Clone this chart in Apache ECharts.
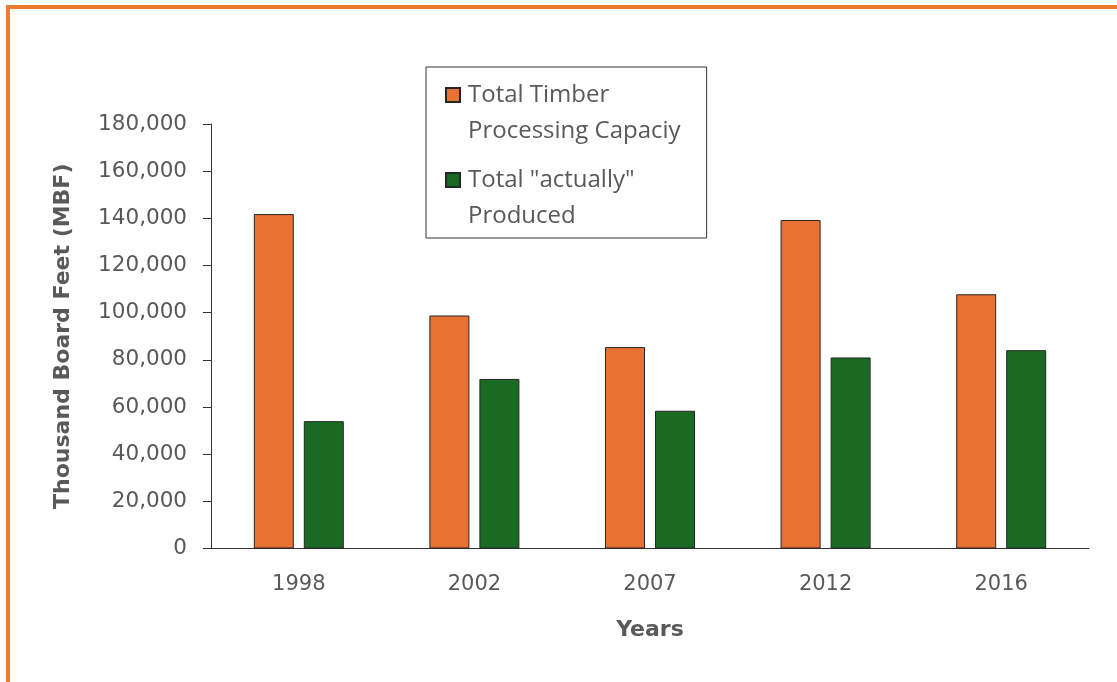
<!DOCTYPE html>
<html>
<head>
<meta charset="utf-8">
<title>Timber Processing Capacity vs Production</title>
<script src="https://cdn.jsdelivr.net/npm/echarts@6/dist/echarts.min.js"></script>
<style>
  html, body { margin: 0; padding: 0; background: #ffffff; }
  #chart { width: 1117px; height: 682px; }
</style>
</head>
<body>
<div id="chart"></div>
<script>
// Survey years
const years = ['1998', '2002', '2007', '2012', '2016'];
// Total timber processing capacity (MBF)
const capacity = [141800, 98800, 85400, 139300, 107800];
// Total volume actually produced (MBF)
const produced = [54000, 71900, 58400, 81000, 84100];

const capacityName = 'Total Timber\nProcessing Capaciy';
const producedName = 'Total "actually"\nProduced';

const textGray = '#595959';
const axisColor = '#333333';

// Legend swatch: a square in the upper part of a tall icon box so it lines up
// with the first line of each two-line legend label.
const legendSwatch = 'path://M0,0 M0,11 L14,11 L14,25 L0,25 Z M14,72';

const chart = echarts.init(document.getElementById('chart'), null, { renderer: 'canvas' });

chart.setOption({
  backgroundColor: '#ffffff',
  animation: false,
  graphic: [{
    type: 'rect',
    silent: true,
    shape: { x: 8, y: 7, width: 1200, height: 800 },
    style: { fill: 'none', stroke: '#ED7D31', lineWidth: 4 }
  }],
  grid: { left: 211, right: 28, top: 124, bottom: 133.5, containLabel: false },
  legend: {
    left: 426,
    top: 67,
    orient: 'vertical',
    icon: legendSwatch,
    itemWidth: 14,
    itemHeight: 72,
    itemGap: 11,
    padding: [9, 26, 3, 19],
    backgroundColor: '#ffffff',
    borderColor: axisColor,
    borderWidth: 1,
    borderRadius: 0,
    textStyle: {
      fontFamily: '"Open Sans", sans-serif',
      fontSize: 24,
      color: textGray,
      lineHeight: 36,
      padding: [0, 0, 0, 3]
    },
    data: [capacityName, producedName]
  },
  xAxis: {
    type: 'category',
    data: years,
    name: 'Years',
    nameLocation: 'middle',
    nameGap: 71,
    nameTextStyle: {
      fontFamily: '"DejaVu Sans", sans-serif',
      fontSize: 22,
      fontWeight: 'bold',
      color: textGray
    },
    axisLine: { lineStyle: { color: axisColor, width: 1 } },
    axisTick: { show: false },
    axisLabel: {
      margin: 26,
      fontFamily: '"DejaVu Sans", sans-serif',
      fontSize: 21,
      color: textGray
    }
  },
  yAxis: {
    type: 'value',
    min: 0,
    max: 180000,
    interval: 20000,
    name: 'Thousand Board Feet (MBF)',
    nameLocation: 'middle',
    nameGap: 137,
    nameTextStyle: {
      fontFamily: '"DejaVu Sans", sans-serif',
      fontSize: 22,
      fontWeight: 'bold',
      color: textGray
    },
    axisLine: { show: true, lineStyle: { color: axisColor, width: 1 } },
    axisTick: { show: true, inside: false, length: 8, lineStyle: { color: axisColor } },
    splitLine: { show: false },
    axisLabel: {
      margin: 24,
      fontFamily: '"DejaVu Sans", sans-serif',
      fontSize: 21.5,
      color: textGray,
      formatter: function (v) { return v.toLocaleString('en-US'); }
    }
  },
  series: [
    {
      name: capacityName,
      type: 'bar',
      data: capacity,
      barWidth: 40,
      barGap: '25%',
      itemStyle: { color: '#E97132', borderColor: '#262626', borderWidth: 1 }
    },
    {
      name: producedName,
      type: 'bar',
      data: produced,
      barWidth: 40,
      barGap: '25%',
      itemStyle: { color: '#196B24', borderColor: '#262626', borderWidth: 1 }
    }
  ]
});
</script>
</body>
</html>
